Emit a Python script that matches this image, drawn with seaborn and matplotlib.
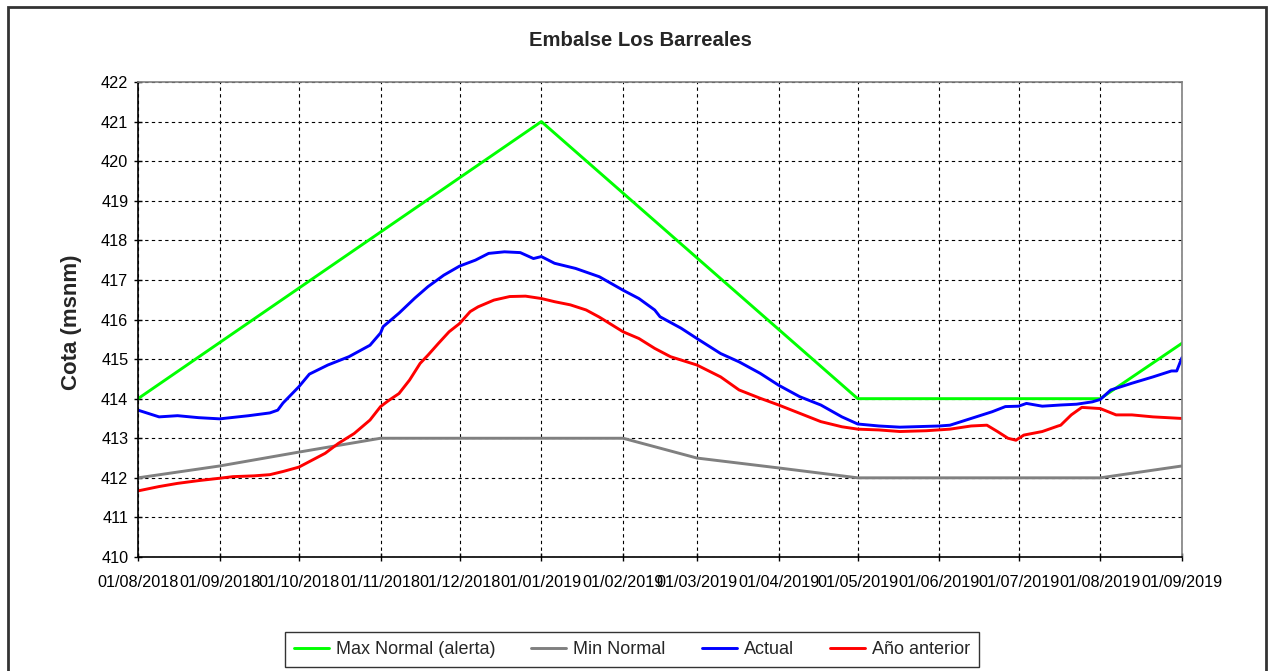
import matplotlib
matplotlib.use("Agg")
import matplotlib.pyplot as plt
import matplotlib.dates as mdates
from matplotlib import font_manager
from matplotlib.patches import Rectangle
import seaborn as sns
import pandas as pd

start = pd.Timestamp("2018-08-01")

# Max Normal (alerta) - break points (days since 01/08/2018, cota)
max_days = [0, 153, 273, 365, 396]
max_vals = [414.0, 421.0, 414.0, 414.0, 415.4]

# Min Normal
min_days = [0, 31, 61, 92, 153, 184, 212, 243, 273, 365, 396]
min_vals = [412.0, 412.3, 412.65, 413.0, 413.0, 413.0, 412.5, 412.25, 412.0, 412.0, 412.3]

# Actual
act_days = [0, 8, 15, 23, 31, 42, 50, 53, 55, 61, 65, 72, 80, 88, 92, 93, 99, 105,
            110, 116, 122, 128, 133, 139, 145, 150, 153, 158, 166, 175, 184, 190,
            196, 198, 206, 212, 221, 228, 236, 243, 251, 259, 267, 273, 281, 289,
            304, 308, 316, 324, 329, 334, 337, 343, 350, 356, 362, 365, 369, 377,
            385, 392, 394, 396]
act_vals = [413.71, 413.54, 413.57, 413.52, 413.49, 413.57, 413.64, 413.71, 413.89,
            414.30, 414.62, 414.85, 415.06, 415.35, 415.66, 415.82, 416.16, 416.54,
            416.83, 417.12, 417.35, 417.50, 417.67, 417.71, 417.69, 417.54, 417.59,
            417.42, 417.29, 417.08, 416.74, 416.53, 416.24, 416.07, 415.78, 415.52,
            415.14, 414.93, 414.64, 414.34, 414.05, 413.84, 413.54, 413.36, 413.31,
            413.28, 413.31, 413.33, 413.50, 413.67, 413.80, 413.81, 413.88, 413.81,
            413.84, 413.86, 413.92, 413.98, 414.22, 414.39, 414.55, 414.70, 414.70,
            415.04]

# Año anterior
prev_days = [0, 8, 15, 23, 31, 36, 44, 50, 55, 61, 65, 71, 76, 82, 88, 92, 95, 99,
             103, 107, 110, 114, 118, 122, 126, 129, 135, 141, 147, 153, 158, 164,
             170, 175, 184, 190, 196, 202, 212, 221, 228, 236, 243, 251, 259, 267,
             273, 281, 289, 299, 308, 316, 322, 326, 330, 333, 336, 343, 349, 350,
             354, 358, 365, 371, 377, 385, 396]
prev_vals = [411.67, 411.78, 411.86, 411.93, 411.99, 412.03, 412.05, 412.08, 412.16,
             412.27, 412.41, 412.62, 412.87, 413.12, 413.46, 413.80, 413.95, 414.13,
             414.47, 414.89, 415.10, 415.40, 415.69, 415.90, 416.20, 416.32, 416.49,
             416.58, 416.59, 416.53, 416.45, 416.37, 416.24, 416.06, 415.69, 415.52,
             415.27, 415.06, 414.85, 414.55, 414.22, 414.01, 413.84, 413.63, 413.42,
             413.29, 413.23, 413.21, 413.17, 413.19, 413.23, 413.31, 413.33, 413.17,
             413.00, 412.95, 413.08, 413.17, 413.31, 413.33, 413.59, 413.78, 413.75,
             413.59, 413.59, 413.54, 413.50]

names = ["Max Normal (alerta)", "Min Normal", "Actual", "Año anterior"]
colors = ["#00ff00", "#808080", "#0000ff", "#ff0000"]

frames = []
for name, days, vals in zip(names,
                            [max_days, min_days, act_days, prev_days],
                            [max_vals, min_vals, act_vals, prev_vals]):
    frames.append(pd.DataFrame({"fecha": start + pd.to_timedelta(days, unit="D"),
                                "cota": vals, "serie": name}))
df = pd.concat(frames, ignore_index=True)

sns.set_style("white")
plt.rcParams["font.family"] = ["Liberation Sans", "DejaVu Sans"]

# legend text in the reference looks narrow
installed = {f.name for f in font_manager.fontManager.ttflist}
if "Liberation Sans Narrow" in installed:
    leg_font = {"family": "Liberation Sans Narrow", "size": 15.5}
else:
    leg_font = {"family": "Liberation Sans", "size": 13}
em = leg_font["size"] * 100 / 72

fig = plt.figure(figsize=(12.7, 6.71), dpi=100)
ax = fig.add_axes([138 / 1270, 1 - 557 / 671, 1044 / 1270, 475 / 671])

sns.lineplot(data=df, x="fecha", y="cota", hue="serie", hue_order=names,
             palette=colors, linewidth=2.1, ax=ax, legend=True)

ax.set_xlim(start, pd.Timestamp("2019-09-01"))
ax.set_ylim(410, 422)
ax.set_yticks(range(410, 423))
ax.xaxis.set_major_locator(mdates.MonthLocator())
ax.xaxis.set_major_formatter(mdates.DateFormatter("%d/%m/%Y"))
ax.tick_params(axis="both", labelsize=11.7, direction="inout", length=6, width=1,
               colors="black", left=True, bottom=True)
ax.tick_params(axis="x", pad=10)
ax.tick_params(axis="y", pad=4)
ax.grid(True, color="black", linestyle=(0, (3, 3)), linewidth=0.8)

for side in ["left", "bottom"]:
    ax.spines[side].set_color("black")
    ax.spines[side].set_linewidth(1.2)
for side in ["top", "right"]:
    ax.spines[side].set_color("#808080")
    ax.spines[side].set_linewidth(1.2)

ax.set_xlabel("")
ax.set_ylabel("")
fig.text(72 / 1270, 1 - 322 / 671, "Cota (msnm)", rotation=90, ha="center",
         va="center", fontsize=16, fontweight="bold")
fig.text(640 / 1270, 1 - 41 / 671, "Embalse Los Barreales", ha="center", va="center",
         fontsize=14.6, fontweight="bold")

handles, labels = ax.get_legend_handles_labels()
ax.legend_.remove()
leg = fig.legend(handles, labels, loc="center", ncol=4,
                 bbox_to_anchor=(632 / 1270, 1 - 649.5 / 671), prop=leg_font,
                 frameon=True, fancybox=False, edgecolor="black",
                 handlelength=35 / em, handletextpad=7 / em,
                 columnspacing=36 / em, borderpad=0.5, borderaxespad=0)
leg.get_frame().set_linewidth(1.0)

fig.patches.append(Rectangle((8 / 1270, -0.01), 1258 / 1270, 1 - 7 / 671 + 0.01,
                             transform=fig.transFigure, fill=False,
                             edgecolor="#333333", linewidth=2))

fig.savefig("out.png", dpi=100)
